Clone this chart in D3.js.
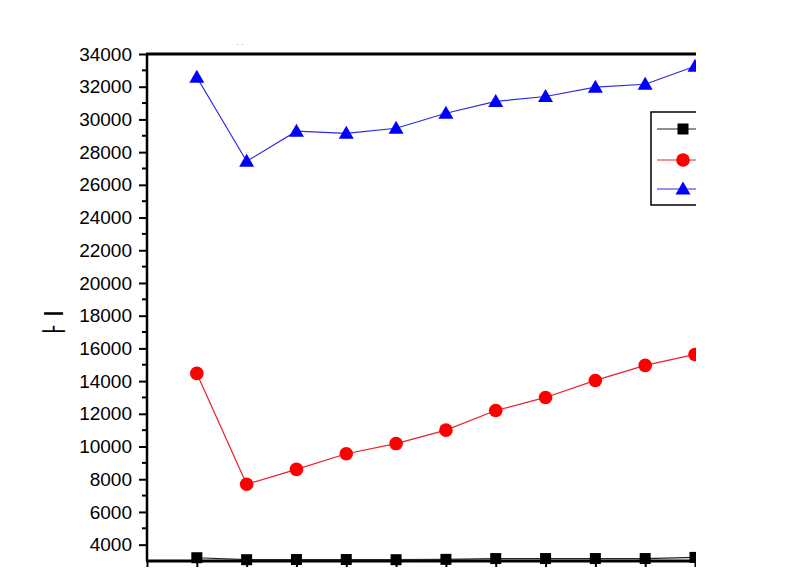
<!DOCTYPE html>
<html><head><meta charset="utf-8">
<script src="https://cdn.jsdelivr.net/npm/d3@7"></script>
<style>body{margin:0;background:#fff}svg{display:block}text{font-family:"Liberation Sans",Arial,sans-serif}</style>
</head><body>
<svg id="c" width="806" height="569"></svg>
<script>
const xValues = [1,2,3,4,5,6,7,8,9,10,11];
const blackSeries = [3200,3080,3090,3090,3080,3100,3150,3150,3150,3150,3220];
const redSeries = [14470,7690,8600,9560,10180,11000,12200,13000,14040,14960,15630];
const blueSeries = [32580,27440,29280,29150,29460,30380,31100,31400,31970,32150,33250];
const yTicks = [4000,6000,8000,10000,12000,14000,16000,18000,20000,22000,24000,26000,28000,30000,32000,34000];
const yLabel = "ㅏI";

const svg = d3.select("#c");
const L = 147, R = 695, T = 54, B = 561;
const x = d3.scaleLinear().domain([0, 11]).range([L, R]);
const y = d3.scaleLinear().domain([3000, 34000]).range([B, T]);

svg.append("defs").append("clipPath").attr("id","cp").append("rect")
  .attr("x",0).attr("y",0).attr("width",696).attr("height",569);
const g = svg.append("g").attr("clip-path","url(#cp)");

// y axis
const yAxis = d3.axisLeft(y).tickValues(yTicks).tickSize(8).tickPadding(7).tickFormat(d3.format("d"));
const ya = g.append("g").attr("transform",`translate(${L},0)`).call(yAxis);
ya.select(".domain").remove();
ya.selectAll(".tick line").attr("stroke","#000").attr("stroke-width",2);
ya.selectAll(".tick text").attr("font-size",19).attr("fill","#000");
// minor ticks
const minor = d3.range(5000, 34000, 2000);
g.append("g").selectAll("line").data(minor).join("line")
  .attr("x1",L-5).attr("x2",L).attr("y1",d=>y(d)).attr("y2",d=>y(d))
  .attr("stroke","#000").attr("stroke-width",2);

// x axis ticks
const xa = g.append("g").attr("transform",`translate(0,${B})`)
  .call(d3.axisBottom(x).tickValues(d3.range(0,12)).tickSize(6).tickFormat(""));
xa.select(".domain").remove();
xa.selectAll(".tick line").attr("stroke","#000").attr("stroke-width",2);

// frame
g.append("line").attr("x1",L).attr("x2",L).attr("y1",T).attr("y2",B).attr("stroke","#000").attr("stroke-width",2.5);
g.append("line").attr("x1",L-1).attr("x2",R+10).attr("y1",T).attr("y2",T).attr("stroke","#000").attr("stroke-width",3);
g.append("line").attr("x1",L-1).attr("x2",R+10).attr("y1",B).attr("y2",B).attr("stroke","#000").attr("stroke-width",3);

const series = [
  {vals: blackSeries, color:"#000", line:"#222", shape:"square"},
  {vals: redSeries, color:"#ff0000", line:"#e8202a", shape:"circle"},
  {vals: blueSeries, color:"#0000ff", line:"#2a2ae0", shape:"triangle"}
];
function marker(sel, shape, color){
  if(shape==="square") sel.append("rect").attr("x",-5.5).attr("y",-5.5).attr("width",11).attr("height",11).attr("fill",color);
  else if(shape==="circle") sel.append("circle").attr("r",6.8).attr("fill",color);
  else sel.append("path").attr("d","M0,-7.5L7.5,5.5L-7.5,5.5Z").attr("fill",color);
}
const line = d3.line().x((d,i)=>x(xValues[i])).y(d=>y(d));
series.forEach(s=>{
  g.append("path").datum(s.vals).attr("d",line).attr("fill","none").attr("stroke",s.line).attr("stroke-width",1.2);
  s.vals.forEach((v,i)=>{
    const m = g.append("g").attr("transform",`translate(${x(xValues[i])},${y(v)})`);
    marker(m, s.shape, s.color);
  });
});

// legend
const lg = g.append("g");
lg.append("rect").attr("x",651).attr("y",112).attr("width",80).attr("height",93).attr("fill","#fff").attr("stroke","#000").attr("stroke-width",1.5);
const ly = [129,160,189];
series.forEach((s,i)=>{
  lg.append("line").attr("x1",657).attr("x2",700).attr("y1",ly[i]).attr("y2",ly[i]).attr("stroke",s.line).attr("stroke-width",1.2);
  const m = lg.append("g").attr("transform",`translate(683,${ly[i]})`);
  marker(m, s.shape, s.color);
});

// y label
svg.append("text").attr("transform","translate(63,327) rotate(-90)").attr("text-anchor","middle")
  .attr("font-size",27).attr("font-family","'Noto Sans CJK KR',sans-serif").attr("fill","#000").text(yLabel);
// faint title remnant
svg.append("text").attr("x",240).attr("y",46).attr("text-anchor","middle").attr("font-size",8).attr("fill","#bbb").text("- -");
</script>
</body></html>
